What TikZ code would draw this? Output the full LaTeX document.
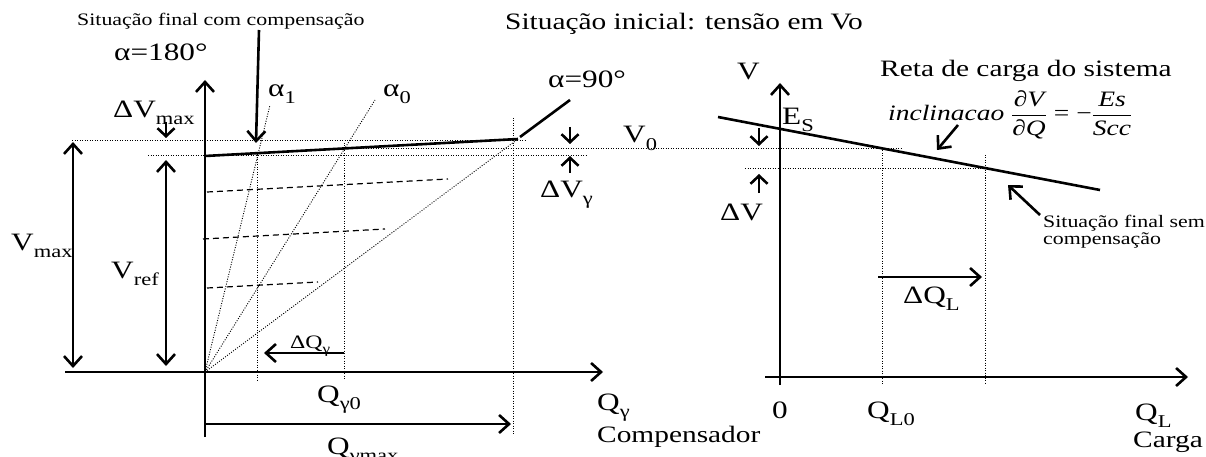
\documentclass[tikz,border=0pt]{standalone}
\usepackage{amsmath}
\usepackage{fontspec}
\setmainfont{Liberation Serif}[FakeStretch=1.25]
\usepackage{graphicx}
\usetikzlibrary{arrows.meta}
\newcommand\fbig{\fontsize{25}{29}\selectfont}
\newcommand\fmed{\fontsize{23.5}{27}\selectfont}
\newcommand\fform{\fontsize{22}{26}\selectfont}
\newcommand\fsma{\fontsize{19}{22}\selectfont}
\newcommand\ftin{\fontsize{17.5}{15.5}\selectfont}
\newcommand\sbs[1]{\raisebox{-0.28em}{\scalebox{0.72}{#1}}}
\newcommand\ifr[2]{\genfrac{}{}{0.8pt}{0}{\mbox{\itshape #1}}{\mbox{\itshape #2}}}
\begin{document}
\begin{tikzpicture}[x=1pt,y=-1pt,
  lab/.style={inner sep=0pt, anchor=base west, font=\fbig},
  thk/.style={line width=2.6pt},
  arr/.style={line width=2.6pt, -{Straight Barb[length=10pt,width=18pt]}},
  darr/.style={line width=2.6pt, {Straight Barb[length=10pt,width=18pt]}-{Straight Barb[length=10pt,width=18pt]}},
  sarr/.style={line width=2.6pt, -{Straight Barb[length=8pt,width=17pt]}},
  dots/.style={line width=0.9pt, dash pattern=on 1pt off 1.5pt},
  dsh/.style={line width=1.2pt, dash pattern=on 6pt off 4pt}]
\useasboundingbox (0,0) rectangle (1206,457);
% ---------- left panel coordinates
\coordinate (O) at (205,372);
\coordinate (Ytop) at (205,80);
\coordinate (Ybot) at (205,437);
\coordinate (Xl) at (65,372);
\coordinate (Xr) at (603,372);
\coordinate (F0) at (205,156);
\coordinate (F1) at (518,139);
\coordinate (A90) at (570,100);
\coordinate (a1) at (270,105);
\coordinate (a0) at (375,100);
% dotted guides
\draw[dots] (72,140) -- (525,140);
\draw[dots] (148,155) -- (588,155);
\draw[dots] (343,148) -- (902,148);
\draw[dots] (257,152) -- (257,380);
\draw[dots] (344,143) -- (344,380);
\draw[dots] (513,118) -- (513,435);
\draw[dots] (O) -- (a1);
\draw[dots] (O) -- (a0);
\draw[dots] (O) -- (F1);
% dashed
\draw[dsh] (207,192) -- (448,179);
\draw[dsh] (203,239) -- (385,229);
\draw[dsh] (207,288) -- (318,282);
% axes
\draw[arr] (Ybot) -- (Ytop);
\draw[arr] (Xl) -- (Xr);
% final line
\draw[thk] (F0) -- (F1);
\draw[thk] (520,137) -- (A90);
% double arrows
\draw[darr] (73,142) -- (73,368);
\draw[darr] (166,160) -- (166,366);
% small arrows
\draw[sarr] (166,122) -- (166,138);
\draw[sarr] (570,127) -- (570,144);
\draw[sarr] (570,173) -- (570,156);
\draw[arr] (344,353) -- (264,353);
\draw[arr] (205,424) -- (511,424);
% labels left
\node[lab, font=\ftin] (tfc) at (77,26) {Situação final com compensação};
\coordinate (tfcA) at (259,30);
\draw[arr] (tfcA) -- (256,143);
\node[lab] (a180) at (114,61) {α=180°};
\node[lab] (la1) at (268,97) {α\sbs{1}};
\node[lab] (la0) at (383,97) {α\sbs{0}};
\node[lab] (la90) at (548,88) {α=90°};
\node[lab] (dvm) at (113,118) {ΔV\sbs{max}};
\node[lab] (vmax) at (11,250) {V\sbs{max}};
\node[lab] (vref) at (111,278) {V\sbs{ref}};
\node[lab] (v0) at (623,143) {V\sbs{0}};
\node[lab] (dvg) at (540,197) {ΔV\sbs{γ}};
\node[lab, font=\fsma] (dqg) at (290,348) {ΔQ\sbs{γ}};
\node[lab] (qg0) at (317,402) {Q\sbs{γ0}};
\node[lab] (qgm) at (327,454) {Q\sbs{γmax}};
\node[lab] (qg) at (597,410) {Q\sbs{γ}};
\node[lab, font=\fmed] (comp) at (597,442) {Compensador};
\node[lab, font=\fmed] (sit) at (505,30) {Situação inicial: tensão em Vo};
% ---------- right panel
\coordinate (RYb) at (780,385);
\coordinate (RYt) at (780,83);
\coordinate (RXl) at (765,377);
\coordinate (RXr) at (1188,377);
\coordinate (L0) at (718,117);
\coordinate (L1) at (1100,190);
\draw[dots] (745,168) -- (985,168);
\draw[dots] (882,148) -- (882,385);
\draw[dots] (985,155) -- (985,385);
\draw[arr] (RYb) -- (RYt);
\draw[arr] (RXl) -- (RXr);
\draw[thk] (L0) -- (L1);
\draw[sarr] (759,128) -- (759,146);
\draw[sarr] (759,193) -- (759,174);
\draw[arr] (878,277) -- (982,277);
\node[lab] (V) at (737,80) {V};
\node[lab] (es) at (782,125) {E\sbs{S}};
\node[lab] (dv) at (720,220) {ΔV};
\node[lab, font=\fmed] (reta) at (880,77) {Reta de carga do sistema};
\node[lab, font=\fform] (incl) at (888,121) {\textit{inclinacao} $\ifr{∂V}{∂Q}$ = −$\ifr{Es}{Scc}$};
\draw[arr] (958,125) -- (937,150);
\node[lab, font=\ftin, align=left] (sfs) at (1043,244) {Situação final sem\\compensação};
\draw[arr] (1040,215) -- (1008,185);
\node[lab] (dql) at (903,303) {ΔQ\sbs{L}};
\node[inner sep=0pt, anchor=base, font=\fbig] (zero) at (780,418) {0};
\node[lab] (ql0) at (867,418) {Q\sbs{L0}};
\node[lab] (ql) at (1135,420) {Q\sbs{L}};
\node[lab, font=\fmed] (carga) at (1133,447) {Carga};
\end{tikzpicture}
\end{document}
